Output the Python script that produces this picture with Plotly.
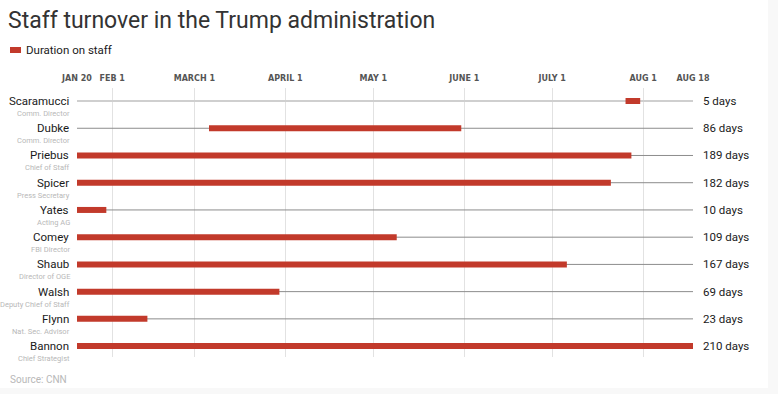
import plotly.graph_objects as go

names = ["Scaramucci", "Dubke", "Priebus", "Spicer", "Yates", "Comey", "Shaub", "Walsh", "Flynn", "Bannon"]
roles = ["Comm. Director", "Comm. Director", "Chief of Staff", "Press Secretary", "Acting AG",
         "FBI Director", "Director of OGE", "Deputy Chief of Staff", "Nat. Sec. Advisor", "Chief Strategist"]
starts = ["2017-07-26", "2017-03-06", "2017-01-20", "2017-01-20", "2017-01-20",
          "2017-01-20", "2017-01-20", "2017-01-20", "2017-01-20", "2017-01-20"]
ends = ["2017-07-31", "2017-05-31", "2017-07-28", "2017-07-21", "2017-01-30",
        "2017-05-09", "2017-07-06", "2017-03-30", "2017-02-13", "2017-08-18"]
day_labels = ["5 days", "86 days", "189 days", "182 days", "10 days",
              "109 days", "167 days", "69 days", "23 days", "210 days"]
tick_dates = ["2017-01-20", "2017-02-01", "2017-03-01", "2017-04-01", "2017-05-01",
              "2017-06-01", "2017-07-01", "2017-08-01", "2017-08-18"]
tick_labels = ["JAN 20", "FEB 1", "MARCH 1", "APRIL 1", "MAY 1", "JUNE 1", "JULY 1", "AUG 1", "AUG 18"]
range_start, range_end = "2017-01-20", "2017-08-18"

RED = "#c23a2b"
FONT = "Roboto, Liberation Sans, sans-serif"

W, H = 778, 394
L, R, T, B = 77, 85, 88, 37
pw, ph = W - L - R, H - T - B


def px_x(p):
    return (p - L) / pw


def px_y(p):
    return (H - B - p) / ph


fig = go.Figure()

# background track lines
for i, n in enumerate(names):
    light = (i == 0)
    fig.add_trace(go.Scatter(
        x=[range_start, range_end], y=[i, i], mode="lines",
        line=dict(color="#cfcfcf" if light else "#8c8c8c", width=2 if light else 1),
        hoverinfo="skip", showlegend=False))

# duration bars
for i, n in enumerate(names):
    fig.add_trace(go.Scatter(
        x=[starts[i], ends[i]], y=[i, i], mode="lines",
        line=dict(color=RED, width=6), name="Duration on staff",
        hovertemplate=n + ": " + day_labels[i] + "<extra></extra>", showlegend=False))

annotations = []
for i, n in enumerate(names):
    annotations.append(dict(x=0, xref="paper", y=i, yref="y", text=n, showarrow=False,
                            xanchor="right", yanchor="middle", xshift=-6,
                            font=dict(family=FONT, size=11.5, color="#1a1a1a")))
    annotations.append(dict(x=0, xref="paper", y=i, yref="y", text=roles[i], showarrow=False,
                            xanchor="right", yanchor="middle", xshift=-5, yshift=-12.5,
                            font=dict(family=FONT, size=7.5, color="#b8b8b8")))
    annotations.append(dict(x=1, xref="paper", y=i, yref="y", text=day_labels[i], showarrow=False,
                            xanchor="left", yanchor="middle", xshift=8,
                            font=dict(family=FONT, size=11.5, color="#1a1a1a")))

# legend text and source
annotations.append(dict(x=px_x(24), xref="paper", y=px_y(50), yref="paper", text="Duration on staff",
                        showarrow=False, xanchor="left", yanchor="middle",
                        font=dict(family=FONT, size=11.5, color="#1a1a1a")))
annotations.append(dict(x=px_x(8), xref="paper", y=px_y(379), yref="paper", text="Source: CNN",
                        showarrow=False, xanchor="left", yanchor="middle",
                        font=dict(family=FONT, size=10, color="#b8b8b8")))

shapes = [
    dict(type="rect", xref="paper", yref="paper", x0=px_x(0), x1=px_x(768), y0=px_y(388), y1=px_y(0),
         fillcolor="white", line=dict(width=0), layer="below"),
    dict(type="rect", xref="paper", yref="paper", x0=px_x(10), x1=px_x(21), y0=px_y(53), y1=px_y(47),
         fillcolor=RED, line=dict(width=0)),
]

fig.update_layout(
    width=W, height=H,
    margin=dict(l=L, r=R, t=T, b=B),
    paper_bgcolor="#f8f8f8", plot_bgcolor="white",
    title=dict(text="Staff turnover in the Trump administration", x=8 / W, xanchor="left",
               y=1 - 20 / H, yanchor="middle", font=dict(family=FONT, size=23, color="#333333")),
    xaxis=dict(type="date", range=[range_start, range_end], side="top",
               tickmode="array", tickvals=tick_dates, ticktext=tick_labels,
               showgrid=True, gridcolor="#e2e2e2", gridwidth=1, zeroline=False, showline=False,
               ticks="", ticklabelstandoff=4,
               tickfont=dict(family="DejaVu Sans, sans-serif", size=8, color="#555555", weight="bold")),
    yaxis=dict(range=[9.40, -0.478], showgrid=False, zeroline=False, showticklabels=False,
               showline=False),
    annotations=annotations, shapes=shapes,
    showlegend=False,
)

fig.write_html("out.html", config={"displayModeBar": False},
               post_script="document.body.style.margin='0';")
